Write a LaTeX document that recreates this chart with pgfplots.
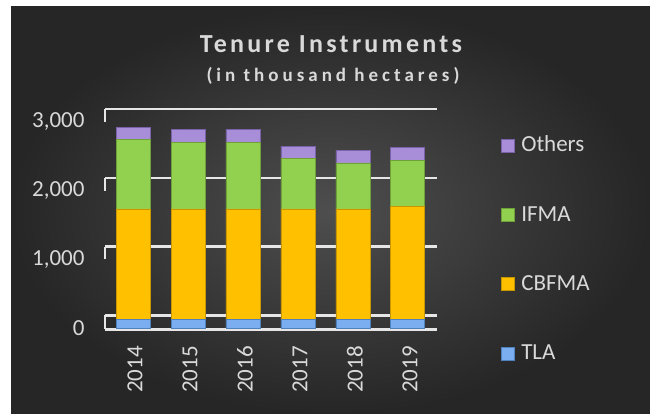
\documentclass[border=0pt]{standalone}
\usepackage{pgfplots}
\pgfplotsset{compat=1.18}
\usepackage{fontspec}
\setmainfont{Carlito}
\newfontfamily\titlefont[LetterSpace=12.5]{Carlito}
\newfontfamily\subfont[LetterSpace=21]{Carlito}
\definecolor{bgin}{HTML}{4E4E4E}
\definecolor{bgout}{HTML}{262626}
\definecolor{txt}{HTML}{D9D9D9}
\definecolor{gridc}{HTML}{E6E6E6}
\definecolor{tla}{HTML}{7AAEF0}
\definecolor{tlad}{HTML}{4F81BD}
\definecolor{cbf}{HTML}{FFC000}
\definecolor{cbfd}{HTML}{C89600}
\definecolor{ifm}{HTML}{92D050}
\definecolor{ifmd}{HTML}{6FA03A}
\definecolor{oth}{HTML}{A88ED8}
\definecolor{othd}{HTML}{7A62A8}
\begin{document}
\begin{tikzpicture}[x=1pt,y=1pt]
\fill[white] (0,0) rectangle (650,414);
\shade[inner color=bgin, outer color=bgout] (11,0) rectangle (650,407);
\node[anchor=base, text=txt, font=\titlefont\bfseries\fontsize{26}{29}\selectfont] at (331,361) {Tenure Instruments};
\node[anchor=base, text=txt, font=\subfont\bfseries\fontsize{19}{22}\selectfont] at (333,332.5) {(in thousand hectares)};
\begin{axis}[
  at={(105pt,84.3pt)}, anchor=south west,
  scale only axis, width=332pt, height=221.2pt,
  xmin=-0.51, xmax=5.53, ymin=-25, ymax=3195,
  ybar stacked, bar width=34pt,
  axis line style={draw=none},
  clip=false,
  xtick={0,1,2,3,4,5},
  xticklabels={2014,2015,2016,2017,2018,2019},
  ytick={0,1000,2000,3000},
  yticklabels={0,{1,000},{2,000},{3,000}},
  /pgf/number format/assume math mode=true,
  tick style={draw=none},
  x tick label style={rotate=90, anchor=east, text=txt, font=\fontsize{23}{27}\selectfont, yshift=-2pt, xshift=-13pt},
  y tick label style={anchor=east, text=txt, font=\fontsize{23}{27}\selectfont, xshift=-17pt},
  extra y ticks={-19,185,1185,2185,3185},
  extra y tick labels={},
  extra y tick style={grid=major, major grid style={draw=gridc, line width=2.5pt}},
  legend style={at={(1.193,0.8775)}, anchor=north west, draw=none, fill=none,
    inner sep=0pt, text=txt, font=\fontsize{23}{27}\selectfont,
    row sep=48.3pt, column sep=6pt,
    nodes={inner sep=0pt, text height=16pt, text depth=5pt}},
  legend cell align=left,
  reverse legend,
  legend image code/.code={\draw[#1, line width=1pt] (0pt,-6pt) rectangle (13pt,7pt);},
]
\addplot[fill=tla, draw=tlad, line width=0.8pt] coordinates {(0,120) (1,118) (2,118) (3,118) (4,118) (5,118)};
\addplot[fill=cbf, draw=cbfd, line width=0.8pt] coordinates {(0,1612) (1,1614) (2,1614) (3,1614) (4,1614) (5,1649)};
\addplot[fill=ifm, draw=ifmd, line width=0.8pt] coordinates {(0,1010) (1,971) (2,971) (3,734) (4,670) (5,674)};
\addplot[fill=oth, draw=othd, line width=0.8pt] coordinates {(0,180) (1,185) (2,185) (3,180) (4,182) (5,182)};
\legend{TLA,CBFMA,IFMA,Others}
\draw[gridc, line width=2.5pt] (axis cs:-0.51,-19) -- (axis cs:-0.51,185);
\draw[gridc, line width=2.5pt] (axis cs:-0.51,1000) -- (axis cs:-0.51,1185);
\draw[gridc, line width=2.5pt] (axis cs:-0.51,2000) -- (axis cs:-0.51,2185);
\draw[gridc, line width=2.5pt] (axis cs:-0.51,3000) -- (axis cs:-0.51,3185);
\end{axis}
\end{tikzpicture}
\end{document}
